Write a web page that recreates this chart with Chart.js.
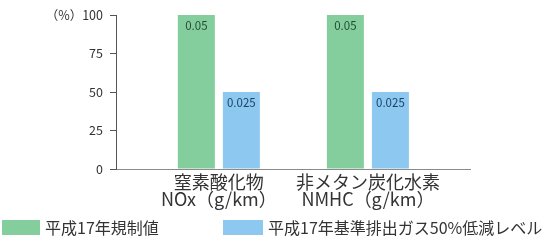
<!DOCTYPE html>
<html>
<head>
<meta charset="utf-8">
<script src="https://cdn.jsdelivr.net/npm/chart.js@4"></script>
<style>
  html, body { margin: 0; padding: 0; background: #fff; }
  #wrap { width: 542px; height: 241px; }
</style>
</head>
<body>
<div id="wrap"><canvas id="grafico"></canvas></div>
<script>
// dados
const categorias = [
  ["窒素酸化物", "NOx（g/km）"],
  ["非メタン炭化水素", "NMHC（g/km）"],
];
const posicoes = [1, 2];
const regulamento = [100, 100];
const reduzido = [50, 50];
const rotulosRegulamento = ["0.05", "0.05"];
const rotulosReduzido = ["0.025", "0.025"];
const seriesNomes = ["平成17年規制値", "平成17年基準排出ガス50%低減レベル"];
const yTicks = [0, 25, 50, 75, 100];

const FONTE = "'Noto Sans CJK JP', 'Noto Sans', sans-serif";
const cores = ["rgb(132, 206, 158)", "rgb(140, 200, 240)"];
const coresTexto = ["rgb(36, 76, 50)", "rgb(28, 64, 104)"];
const rotulos = [rotulosRegulamento, rotulosReduzido];

// valores dentro das barras
const valoresPlugin = {
  id: "valores",
  afterDatasetsDraw(chart) {
    const ctx = chart.ctx;
    ctx.save();
    ctx.font = "11.5px " + FONTE;
    ctx.textAlign = "center";
    ctx.textBaseline = "middle";
    chart.data.datasets.forEach((ds, i) => {
      chart.getDatasetMeta(i).data.forEach((bar, j) => {
        ctx.fillStyle = coresTexto[i];
        ctx.fillText(rotulos[i][j], bar.x, bar.y + 11);
      });
    });
    ctx.restore();
  },
};

// legenda embaixo
const legendaPlugin = {
  id: "legenda",
  afterDraw(chart) {
    const ctx = chart.ctx;
    const itens = [
      { x: 2, w: 38 },
      { x: 223, w: 40 },
    ];
    ctx.save();
    ctx.font = "16px " + FONTE;
    ctx.textBaseline = "middle";
    chart.data.datasets.forEach((ds, i) => {
      ctx.fillStyle = ds.backgroundColor;
      ctx.fillRect(itens[i].x, 220, itens[i].w, 15);
      ctx.fillStyle = "#333";
      ctx.fillText(ds.label, itens[i].x + itens[i].w + 5, 228);
    });
    ctx.restore();
  },
};

new Chart(document.getElementById("grafico"), {
  type: "bar",
  data: {
    datasets: [
      {
        label: seriesNomes[0],
        data: posicoes.map((p, i) => ({ x: p, y: regulamento[i] })),
        backgroundColor: cores[0],
        borderWidth: 0,
      },
      {
        label: seriesNomes[1],
        data: posicoes.map((p, i) => ({ x: p, y: reduzido[i] })),
        backgroundColor: cores[1],
        borderWidth: 0,
      },
    ],
  },
  options: {
    responsive: true,
    maintainAspectRatio: false,
    animation: false,
    categoryPercentage: 0.604,
    barPercentage: 0.822,
    layout: {
      padding: { left: 0, top: 15, right: 72, bottom: 0 },
    },
    plugins: {
      legend: { display: false },
      tooltip: { enabled: false },
    },
    scales: {
      x: {
        type: "linear",
        offset: false,
        min: 0.31,
        max: 2.685,
        afterBuildTicks: (scale) => {
          scale.ticks = posicoes.map((p) => ({ value: p }));
        },
        afterFit: (scale) => {
          scale.height = 72;
        },
        grid: { display: false, drawTicks: false, offset: false },
        border: { color: "#8a8a8a", width: 1 },
        ticks: {
          autoSkip: false,
          maxRotation: 0,
          minRotation: 0,
          padding: 5,
          color: "#333",
          font: { family: FONTE, size: 18, lineHeight: 0.92 },
          callback: (v) => categorias[posicoes.indexOf(v)],
        },
      },
      y: {
        min: 0,
        max: 100,
        afterBuildTicks: (scale) => {
          scale.ticks = yTicks.map((v) => ({ value: v }));
        },
        afterFit: (scale) => {
          scale.width = 116;
        },
        grid: {
          drawOnChartArea: false,
          drawTicks: true,
          tickLength: 6,
          color: "#555",
        },
        border: { color: "#555", width: 1 },
        ticks: {
          padding: 7,
          color: "#333",
          font: { family: FONTE, size: 12.5 },
          callback: (v) => (v === 100 ? "（%）100" : v),
        },
      },
    },
  },
  plugins: [valoresPlugin, legendaPlugin],
});
</script>
</body>
</html>
